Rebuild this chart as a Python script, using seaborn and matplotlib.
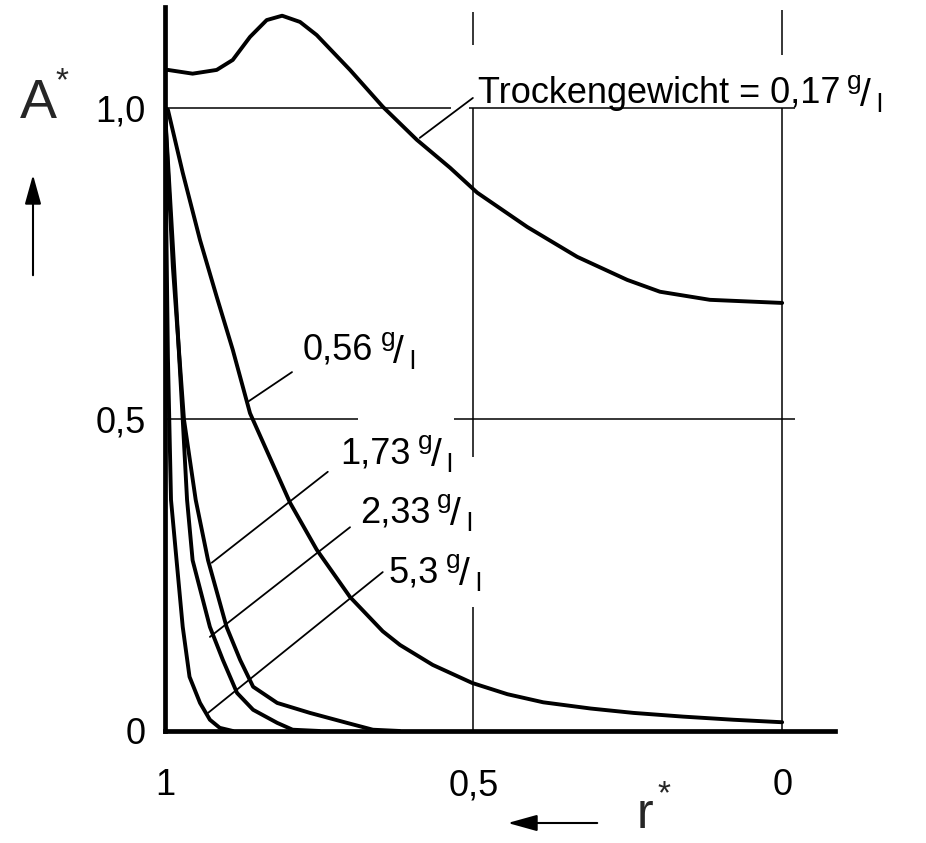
import numpy as np
import pandas as pd
import matplotlib
matplotlib.use("Agg")
import matplotlib.pyplot as plt
from matplotlib.patches import FancyArrowPatch
import seaborn as sns

# values (r* falls from 1 to 0)
r_017 = [1.0, 0.995, 0.955, 0.916, 0.890, 0.862, 0.835, 0.810, 0.781, 0.754, 0.700,
         0.647, 0.592, 0.538, 0.494, 0.413, 0.332, 0.251, 0.198, 0.117, 0.0]
a_017 = [1.06, 1.061, 1.055, 1.061, 1.077, 1.114, 1.141, 1.148, 1.138, 1.117, 1.061,
         1.002, 0.949, 0.904, 0.864, 0.809, 0.761, 0.724, 0.705, 0.692, 0.687]

r_056 = [1.0, 0.995, 0.971, 0.943, 0.916, 0.890, 0.862, 0.797, 0.754, 0.700, 0.647,
         0.619, 0.566, 0.502, 0.445, 0.387, 0.310, 0.241, 0.160, 0.079, 0.0]
a_056 = [1.0, 0.997, 0.896, 0.788, 0.697, 0.612, 0.51, 0.366, 0.291, 0.215, 0.160,
         0.138, 0.106, 0.077, 0.059, 0.046, 0.036, 0.029, 0.023, 0.018, 0.014]

r_173 = [1.0, 0.987, 0.969, 0.950, 0.930, 0.900, 0.878, 0.857, 0.818, 0.765, 0.705, 0.663, 0.62]
a_173 = [1.0, 0.745, 0.5, 0.371, 0.274, 0.167, 0.114, 0.071, 0.045, 0.029, 0.013, 0.002, 0.0]

r_233 = [1.0, 0.985, 0.971, 0.964, 0.955, 0.927, 0.906, 0.883, 0.857, 0.818, 0.793, 0.75]
a_233 = [1.0, 0.745, 0.5, 0.371, 0.274, 0.167, 0.114, 0.061, 0.034, 0.013, 0.002, 0.0]

r_53 = [1.0, 0.995, 0.990, 0.981, 0.971, 0.960, 0.943, 0.927, 0.911, 0.89]
a_53 = [1.0, 0.60, 0.371, 0.274, 0.167, 0.087, 0.045, 0.018, 0.005, 0.0]

labels = ["Trockengewicht = 0,17", "0,56", "1,73", "2,33", "5,3"]
x_ticks = [1.0, 0.5, 0.0]
x_ticklabels = ["1", "0,5", "0"]
y_ticks = [0.0, 0.5, 1.0]
y_ticklabels = ["0", "0,5", "1,0"]

curves = pd.concat([
    pd.DataFrame({"r": r, "A": a, "c": name})
    for r, a, name in [(r_017, a_017, "0,17"), (r_056, a_056, "0,56"),
                       (r_173, a_173, "1,73"), (r_233, a_233, "2,33"),
                       (r_53, a_53, "5,3")]
])

sns.set_style("white")
plt.rcParams["font.family"] = ["Liberation Sans", "DejaVu Sans"]

fig = plt.figure(figsize=(9.26, 8.43), dpi=100)
ax = fig.add_axes([0.178, 0.1329, 0.724, 0.8588])

for name, grp in curves.groupby("c", sort=False):
    sns.lineplot(data=grp, x="r", y="A", ax=ax, color="black", lw=2.8,
                 sort=False, estimator=None, legend=False)

# grid lines with the gaps of the drawing
gk = dict(color="black", lw=1.1)
ax.hlines(1.0, 1.0, 0.536, **gk)
ax.hlines(1.0, 0.508, -0.021, **gk)
ax.hlines(0.5, 1.0, 0.687, **gk)
ax.hlines(0.5, 0.532, -0.021, **gk)
ax.vlines(0.5, 1.101, 1.154, **gk)
ax.vlines(0.5, 0.44, 1.0, **gk)
ax.vlines(0.5, 0.0, 0.199, **gk)
ax.vlines(0.0, 1.085, 1.157, **gk)
ax.vlines(0.0, 0.0, 1.0, **gk)

# leader lines to the labels
lk = dict(color="black", lw=1.3)
ax.plot([0.587, 0.501], [0.952, 1.016], **lk)
ax.plot([0.866, 0.794], [0.528, 0.576], **lk)
ax.plot([0.924, 0.736], [0.270, 0.416], **lk)
ax.plot([0.927, 0.700], [0.151, 0.327], **lk)
ax.plot([0.930, 0.647], [0.029, 0.255], **lk)

tk = dict(fontsize=26, color="black", ha="left", va="baseline")
label_pos = [(0.493, 1.008), (0.776, 0.596), (0.716, 0.430), (0.684, 0.335), (0.637, 0.239)]
texts = [ax.text(x, y, s, **tk) for (x, y), s in zip(label_pos, labels)]

ax.set_xlim(1.0, -0.086)
ax.set_ylim(0.0, 1.162)
ax.set_xticks(x_ticks)
ax.set_xticklabels(x_ticklabels)
ax.set_yticks(y_ticks)
ax.set_yticklabels(y_ticklabels)
ax.set_xticks(np.arange(0.1, 1.0, 0.1), minor=True)
ax.set_yticks(np.arange(0.1, 1.15, 0.1), minor=True)
ax.tick_params(axis="both", which="both", direction="out", length=5, width=1.5,
               color="black", labelsize=26, labelcolor="black")
ax.tick_params(axis="x", pad=22)
ax.tick_params(axis="y", pad=9)
ax.set_xlabel("")
ax.set_ylabel("")
for s in ["top", "right"]:
    ax.spines[s].set_visible(False)
for s in ["left", "bottom"]:
    ax.spines[s].set_linewidth(3.4)
    ax.spines[s].set_color("black")

# unit g/l written as a small slanted fraction after each label
fig.canvas.draw()
rend = fig.canvas.get_renderer()
for t in texts:
    bb = t.get_window_extent(rend)
    x0, y0 = ax.transData.transform(t.get_position())
    x0 = bb.x1
    for s, dx, dy, fs in [("g", 7, 14, 19), ("/", 20, -3, 28), ("l", 36, -9, 19)]:
        ax.annotate(s, xy=(x0, y0), xycoords="figure pixels",
                    xytext=(dx, dy), textcoords="offset pixels",
                    fontsize=fs, ha="left", va="baseline", color="black")

# axis names with arrows
fig.text(20 / 926, 1 - 118 / 843, "A", fontsize=40, ha="left", va="baseline")
fig.text(55 / 926, 1 - 90 / 843, "*", fontsize=24, ha="left", va="baseline")
fig.text(637 / 926, 1 - 828 / 843, "r", fontsize=36, ha="left", va="baseline")
fig.text(657 / 926, 1 - 803 / 843, "*", fontsize=24, ha="left", va="baseline")
ak = dict(arrowstyle="-|>,head_length=0.9,head_width=0.25", color="black", lw=1.5)
fig.add_artist(FancyArrowPatch((33 / 926, 1 - 278 / 843), (33 / 926, 1 - 172 / 843),
                               transform=fig.transFigure, mutation_scale=20, **ak))
fig.add_artist(FancyArrowPatch((600 / 926, 1 - 823 / 843), (505 / 926, 1 - 823 / 843),
                               transform=fig.transFigure, mutation_scale=20, **ak))

fig.savefig("out.png", dpi=100, facecolor="white")
